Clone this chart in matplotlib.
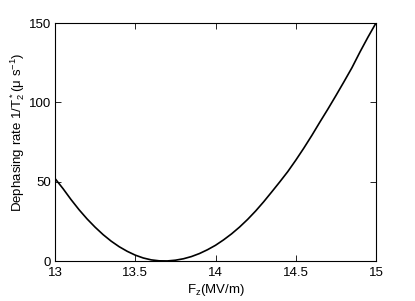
import matplotlib
matplotlib.use("Agg")
import matplotlib.pyplot as plt

field = [13.00, 13.05, 13.10, 13.15, 13.20, 13.25, 13.30, 13.35, 13.40, 13.45,
         13.50, 13.55, 13.60, 13.65, 13.70, 13.75, 13.80, 13.85, 13.90, 13.95,
         14.00, 14.05, 14.10, 14.15, 14.20, 14.25, 14.30, 14.35, 14.40, 14.45,
         14.50, 14.55, 14.60, 14.65, 14.70, 14.75, 14.80, 14.85, 14.90, 14.95, 15.00]
rate = [52.0, 45.6, 38.7, 32.3, 26.5, 21.3, 16.6, 12.5, 9.0, 6.1,
        3.7, 1.9, 0.7, 0.1, 0.04, 0.5, 1.4, 2.8, 4.7, 7.1,
        9.9, 13.3, 17.1, 21.4, 26.2, 31.5, 37.3, 43.5, 49.8, 56.3,
        63.5, 71.1, 79.1, 87.5, 95.7, 104.2, 112.9, 121.8, 131.7, 141.1, 150.0]
xticks = [13, 13.5, 14, 14.5, 15]
xticklabels = ["13", "13.5", "14", "14.5", "15"]
yticks = [0, 50, 100, 150]
yticklabels = ["0", "50", "100", "150"]

plt.rcParams['font.family'] = ['Liberation Sans', 'DejaVu Sans']
plt.rcParams['mathtext.default'] = 'regular'

fig = plt.figure(figsize=(4.15, 3.01), dpi=100)
ax = fig.add_axes([55/415, 40/301, 321/415, 238/301])
ax.plot(field, rate, color='black', lw=1.2)
ax.set_xlim(13, 15)
ax.set_ylim(0, 150)
ax.set_xticks(xticks)
ax.set_xticklabels(xticklabels)
ax.set_yticks(yticks)
ax.set_yticklabels(yticklabels)
ax.tick_params(direction='in', top=True, right=True, length=4, width=0.6,
               labelsize=9.5)
ax.tick_params(axis='x', pad=4.5)
ax.tick_params(axis='y', pad=3)
for s in ax.spines.values():
    s.set_linewidth(0.8)
ax.set_xlabel(r'F$_z$(MV/m)', fontsize=9.5, labelpad=2)
ax.set_ylabel(r'Dephasing rate 1/T$_2^*$($\mu$ s$^{-1}$)', fontsize=9.5)
ax.yaxis.set_label_coords(-0.087, 0.54)
fig.savefig('out.png', dpi=100)
